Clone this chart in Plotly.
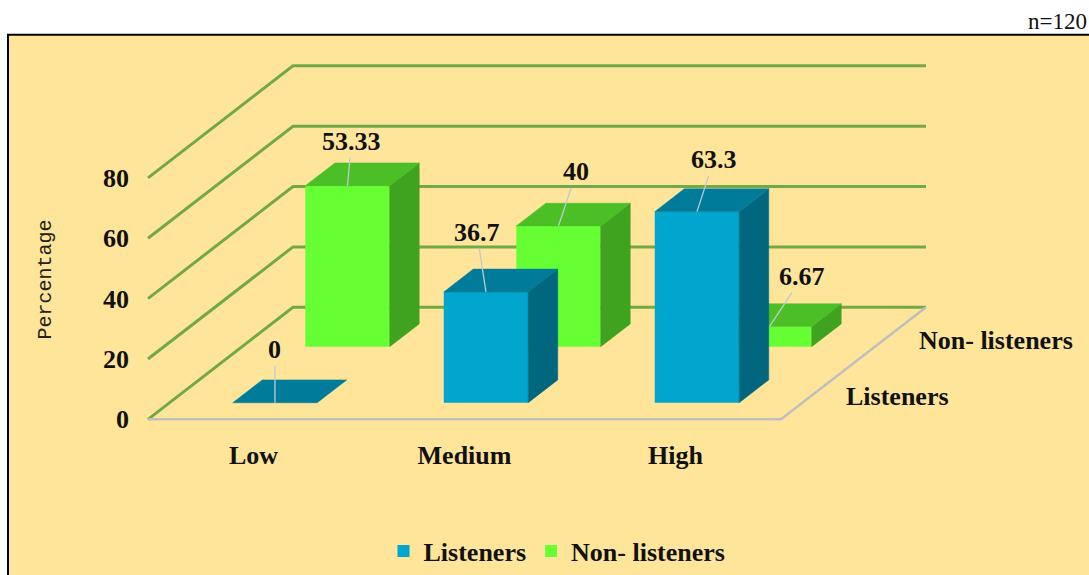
import plotly.graph_objects as go

# ---------------- data ----------------
categories = ["Low", "Medium", "High"]
series_names = ["Listeners", "Non- listeners"]
listeners = [0, 36.7, 63.3]
non_listeners = [53.33, 40, 6.67]
listeners_labels = ["0", "36.7", "63.3"]
non_listeners_labels = ["53.33", "40", "6.67"]
y_ticks = [0, 20, 40, 60, 80]
sample_note = "n=120"
y_title = "Percentage"

# ---------------- style / projection ----------------
W, H = 1089, 575
PX0, PY0 = 148, 423          # pixel of front-left floor corner
SX = 211.0                   # px per category
SY = 3.045                   # px per percent
DX = 145.0 / SX              # depth shift (x units) for full depth
DY = 113.0 / SY              # depth shift (y units) for full depth
BAR_W = 0.40
ROW_DEPTH = {"Listeners": (0.148, 0.352), "Non- listeners": (0.648, 0.852)}
COLORS = {
    "Listeners": {"front": "#00A6CE", "top": "#007B99", "side": "#00677F"},
    "Non- listeners": {"front": "#66FF33", "top": "#4DBF26", "side": "#40A320"},
}
LABEL_OFFSETS = {
    "Listeners": [(0, -53), (-9, -59), (17, -52)],
    "Non- listeners": [(4, -44), (18, -54), (33, -50)],
}
GRID_COLOR = "#72A948"
FLOOR_COLOR = "#BFBFBF"
BG = "#FFE599"
SERIF = "Liberation Serif"
FS = 26

xr = [-PX0 / SX, (W - PX0) / SX]
yr = [-(H - PY0) / SY, PY0 / SY]
ncat = len(categories)

fig = go.Figure()

# ---- walls: gridlines (base subplot) ----
for v in y_ticks:
    fig.add_trace(go.Scatter(
        x=[0, DX, ncat + DX], y=[v, v + DY, v + DY], mode="lines",
        line=dict(color=GRID_COLOR, width=3), showlegend=False, hoverinfo="skip",
        xaxis="x", yaxis="y"))
fig.add_trace(go.Scatter(
    x=[0, ncat, ncat + DX], y=[0, 0, DY], mode="lines",
    line=dict(color=FLOOR_COLOR, width=2.5), showlegend=False, hoverinfo="skip",
    xaxis="x", yaxis="y"))

# ---- bars ----
def add_row(name, values, xa, ya, rank):
    d0, d1 = ROW_DEPTH[name]
    c = COLORS[name]
    xs = [i + 0.5 + d0 * DX for i in range(ncat)]
    fig.add_trace(go.Bar(
        x=xs, y=values, base=[d0 * DY] * ncat, width=BAR_W, name=name,
        marker=dict(color=c["front"], line=dict(width=0)),
        xaxis=xa, yaxis=ya, legendrank=rank, hoverinfo="skip"))
    for i, v in enumerate(values):
        xl = i + 0.5 - BAR_W / 2
        xrr = i + 0.5 + BAR_W / 2
        b0, b1 = d0 * DY, d1 * DY
        # side face
        if v > 0:
            fig.add_trace(go.Scatter(
                x=[xrr + d0 * DX, xrr + d0 * DX, xrr + d1 * DX, xrr + d1 * DX, xrr + d0 * DX],
                y=[b0, b0 + v, b1 + v, b1, b0],
                mode="lines", fill="toself", fillcolor=c["side"],
                line=dict(color=c["side"], width=0.5),
                showlegend=False, hoverinfo="skip", xaxis=xa, yaxis=ya))
        # top face
        fig.add_trace(go.Scatter(
            x=[xl + d0 * DX, xrr + d0 * DX, xrr + d1 * DX, xl + d1 * DX, xl + d0 * DX],
            y=[b0 + v, b0 + v, b1 + v, b1 + v, b0 + v],
            mode="lines", fill="toself", fillcolor=c["top"],
            line=dict(color=c["top"], width=0.5),
            showlegend=False, hoverinfo="skip", xaxis=xa, yaxis=ya))

add_row("Non- listeners", non_listeners, "x2", "y2", 2)
add_row("Listeners", listeners, "x3", "y3", 1)

# ---- annotations ----
ann = []
for name, vals, labs, xa, ya in [("Non- listeners", non_listeners, non_listeners_labels, "x2", "y2"),
                                 ("Listeners", listeners, listeners_labels, "x3", "y3")]:
    d0, _ = ROW_DEPTH[name]
    for i, (v, t) in enumerate(zip(vals, labs)):
        ax, ay = LABEL_OFFSETS[name][i]
        ann.append(dict(
            x=i + 0.5 + d0 * DX, y=d0 * DY + v, xref=xa, yref=ya, text=t,
            showarrow=True, arrowhead=0, arrowwidth=1.3, arrowcolor="#BACBD6",
            ax=ax, ay=ay, standoff=0, startstandoff=0,
            font=dict(family=SERIF, size=FS, color="#111111", weight="bold")))
    dm = sum(ROW_DEPTH[name]) / 2
    ann.append(dict(
        x=ncat + dm * DX, y=dm * DY, xref="x", yref="y", text=name, showarrow=False,
        xanchor="left", yanchor="middle", xshift=27, yshift=-5,
        font=dict(family=SERIF, size=FS, color="#111111", weight="bold")))

ann.append(dict(x=1, y=1 - 22 / H, xref="paper", yref="paper", text=sample_note,
                showarrow=False, xanchor="right", yanchor="middle",
                font=dict(family=SERIF, size=23, color="#111111")))
ann.append(dict(x=46 / W, y=1 - 282 / H, xref="paper", yref="paper", text=y_title,
                showarrow=False, textangle=-90, xanchor="center", yanchor="middle",
                font=dict(family="Liberation Mono", size=20, color="#222222")))

shapes = [dict(type="rect", xref="paper", yref="paper", x0=8 / W, x1=1.05,
               y0=1 - 35 / H, y1=-0.05, fillcolor=BG,
               line=dict(color="#000000", width=2), layer="below")]

tickfont = dict(family=SERIF, size=FS, color="#111111", weight="bold")
fig.update_layout(
    width=W, height=H, margin=dict(l=0, r=0, t=0, b=0, pad=0),
    paper_bgcolor="white", plot_bgcolor="rgba(0,0,0,0)",
    barmode="overlay", hovermode=False,
    xaxis=dict(range=xr, anchor="free", position=1 - PY0 / H,
               tickvals=[i + 0.5 for i in range(ncat)], ticktext=categories,
               tickfont=tickfont, showgrid=False, zeroline=False, showline=False,
               ticks="", ticklabelstandoff=18, automargin=False, fixedrange=True),
    yaxis=dict(range=yr, anchor="free", position=PX0 / W, tickvals=y_ticks,
               tickfont=tickfont, showgrid=False, zeroline=False, showline=False,
               ticks="", ticklabelstandoff=19, automargin=False, fixedrange=True),
    xaxis2=dict(range=xr, overlaying="x", anchor="y2", visible=False, fixedrange=True),
    yaxis2=dict(range=yr, overlaying="y", anchor="x2", visible=False, fixedrange=True),
    xaxis3=dict(range=xr, overlaying="x", anchor="y3", visible=False, fixedrange=True),
    yaxis3=dict(range=yr, overlaying="y", anchor="x3", visible=False, fixedrange=True),
    legend=dict(orientation="h", x=557 / W, xanchor="center", y=1 - 556 / H,
                yanchor="middle", bgcolor="rgba(0,0,0,0)", traceorder="normal",
                font=dict(family=SERIF, size=FS, color="#111111", weight="bold")),
    annotations=ann, shapes=shapes,
)

fig.write_html("out.html")
